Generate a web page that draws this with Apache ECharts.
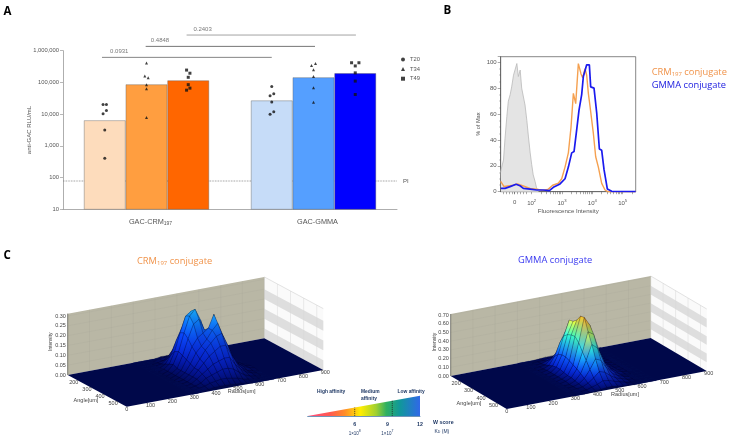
<!DOCTYPE html>
<html><head><meta charset="utf-8">
<style>html,body{margin:0;padding:0;background:#fff}#c{width:730px;height:442px}</style>
<script src="https://cdn.jsdelivr.net/npm/echarts@6/dist/echarts.min.js"></script>
</head><body><div id="c"></div>
<script>
// ---------- Panel A data ----------
const groups = ['GAC-CRM197', 'GAC-GMMA'];
const barT20 = [6400, 27000];
const barT34 = [87000, 145000];
const barT49 = [116000, 195000];
const colorsT20 = ['#fddcbc', '#c6dcf8'];
const colorsT34 = ['#ff9e40', '#559fff'];
const colorsT49 = ['#ff6600', '#0000ff'];
// [value, sideways jitter within the bar, in group widths]
const t20Crm = [[20000,-.01],[20000,.01],[13000,.01],[10300,-.01],[3170,0],[405,0]];
const t20Gmma = [[74000,0],[44000,.012],[38000,-.01],[24000,0],[11800,.012],[10000,-.01]];
const t34Crm = [[410000,0],[159000,-.01],[141000,.01],[85000,0],[63000,0],[7900,0]];
const t34Gmma = [[398000,.012],[339000,-.012],[251000,0],[155000,0],[68000,0],[23500,0]];
const t49Crm = [[245000,-.01],[195000,.01],[145000,0],[85000,0],[66000,.01],[57000,-.01]];
const t49Gmma = [[417000,-.022],[417000,.022],[331000,0],[200000,0],[110000,0],[41700,0]];
const piLevel = 78;
const bracketFrom = [.2335, .495, .74];
const bracketTo = [1.25, 1.509, 1.754];
const bracketLevel = [617000, 1370000, 3120000];
const bracketColor = ['#777777', '#666666', '#999999'];
const pValues = ['0.0931', '0.4848', '0.2403'];
const pValueAt = [.337, .581, .836];

// ---------- Panel B data (x is log10 of fluorescence intensity) ----------
const grayX = [.978,.99,1.07,1.12,1.18,1.23,1.29,1.34,1.40,1.45,1.51,1.56,1.62,1.67,1.73,1.78,1.84,1.89,1.95,2.0,2.05,2.11,2.16,2.22];
const grayPct = [15,17,24.5,41,58,70,75,81,90,89,99,89,94,80,80,67,55,43,30,21,13,8,3,0];
const orangeX = [.978,1.088,1.396,1.527,1.725,1.945,2.165,2.385,2.55,2.692,2.879,2.989,3.099,3.209,3.297,3.374,3.451,3.538,3.626,3.681,3.758,3.813,3.868,3.923,4.033,4.11,4.198,4.308,4.418,4.505,5.429];
const orangePct = [8,4,5,6,4.4,2.6,2,1,2,5,6.5,10,19,30,50,76,68,99,91,88,95,90,76,66,45,27,19,6.4,1.3,0,0];
const blueX = [.978,1.12,1.286,1.484,1.615,1.725,1.945,2.165,2.385,2.582,2.714,2.934,3.099,3.209,3.319,3.396,3.484,3.56,3.648,3.703,3.758,3.813,3.901,3.945,4.055,4.143,4.231,4.308,4.385,4.495,4.637,5.429];
const bluePct = [2.6,2.6,3.9,5.7,4.6,2.6,2,1.3,1.3,.8,3.4,6,10,19,30,31,48,63,75,89,88,98,98,81,80,61,33,32,17,2,.3,0];
const xTicksB = [1.44, 2, 3, 4, 5];

// ---------- Panel C data: intensity x 100, rows by angle, columns by radius ----------
const radiusCols = [300,325,350,375,400,425,450,475,500,525,550,575,600,625,650,675];
const angleRows = [100,130,160,190,220,250,280,310,340,370,400,430,460,490,520,550];
const crmSurface = [
[0,0,0,0,0,.5,.5,.5,.5,.5,0,0,0,0,0,0],
[0,0,0,0,1,1,1.5,1.5,1.5,1,.5,0,0,0,0,0],
[0,0,0,.5,1,3,4,4,3,2,1,.5,0,0,0,0],
[0,0,.5,1,3,7,10,10,8,5,2,1,.5,0,0,0],
[0,0,.5,2,6,13,19,20,15,9,4,2,1,.5,0,0],
[0,0,1,3,9,18,26,28,20,12,6,3,1.5,1,.5,0],
[0,0,1,4,10,19,27,30,24,14,8,4,2,1,.5,0],
[0,0,1,3,9,17,24,26,20,17,12,6,3,1,.5,0],
[0,0,1,3,8,14,18,20,22,28.5,19,9,4,2,1,0],
[0,0,1,3,7,12,15,18,22,25,18,9,4,2,1,.5],
[0,.5,1,3,6,10,14,17,20,21,15,8,4,2,1,.5],
[0,.5,1,3,6,9,12,14,16,16,11,6,3,1,.5,0],
[0,.5,1,3,5,7,9,10,11,11,7,4,2,1,.5,0],
[0,.5,1,2,4,5,6,7,7,6,4,2,1,.5,0,0],
[0,0,1,1.5,2.5,3,3.5,3.5,3,2.5,1.5,1,.5,0,0,0],
[0,0,.5,1,1.5,1.5,1.5,1.5,1,1,.5,0,0,0,0,0]];
const gmmaSurface = [
[0,0,0,0,.5,1,1,1,.5,0,0,0,0,0,0,0],
[0,0,0,.5,1,2,3,2,1,.5,0,0,0,0,0,0],
[0,0,.5,1,3,6,8,7,4,2,1,0,0,0,0,0],
[0,0,1,2,7,14,20,16,8,4,2,1,0,0,0,0],
[0,.5,1,4,13,28,40,30,15,7,3,1,.5,0,0,0],
[0,.5,2,6,18,38,55,42,24,11,5,2,1,.5,0,0],
[0,.5,2,7,20,42,56,46,28,13,6,3,1,.5,0,0],
[0,.5,2,7,20,44,60,55,32,15,7,3,1,.5,0,0],
[0,.5,2,6,18,45,67,60,35,17,8,3,1,.5,0,0],
[0,.5,2,5,16,40,68,58,35,17,8,3,1,.5,0,0],
[0,.5,2,5,14,32,54,50,30,15,7,3,1,.5,0,0],
[0,.5,1,4,11,25,42,37,22,11,6,2,1,0,0,0],
[0,.5,1,3,8,17,28,25,15,8,4,2,.5,0,0,0],
[0,0,1,2,5,10,16,14,9,5,3,1,.5,0,0,0],
[0,0,.5,1,3,5,8,7,5,3,1.5,.5,0,0,0,0],
[0,0,0,.5,1,2,3,3,2,1,.5,0,0,0,0,0]];
const radiusTicks = [0,100,200,300,400,500,600,700,800,900];
const angleTicks = [200,300,400,500];
const crmZTicks = [0,.05,.10,.15,.20,.25,.30];
const gmmaZTicks = [0,.10,.20,.30,.40,.50,.60,.70];
const crmBands = [[0,.05],[.10,.15],[.20,.25]];
const gmmaBands = [[.10,.20],[.30,.40],[.50,.60]];
// Affinity scale
const wTicks = [6, 9, 12];
const kdExponent = {6:'8', 9:'7'};
const wMarkers = [6, 9.45];

// ---------- Helpers ----------
const SANS = '"Liberation Sans", Arial, sans-serif';
const HEAD = '"Open Sans", "Noto Sans", sans-serif';
const TXT = '#555';
const R_MAX = 900, A_MIN = 100, A_MAX = 550;
const crmView = {origin:[126.7,406.7], rVec:[196.6,-36.7], aVec:[-59,-31.7], zPx:196.7, zTop:.312,
  zTicks:crmZTicks, bands:crmBands, surface:crmSurface, radiusName:[241.7,391.7], angleName:[86,400.7], zName:[50.7,341.7], zFix:2};
const gmmaView = {origin:[506.7,409], rVec:[200,-38], aVec:[-56,-33], zPx:87.1, zTop:.712,
  zTicks:gmmaZTicks, bands:gmmaBands, surface:gmmaSurface, radiusName:[625,394], angleName:[469,403.3], zName:[434.5,342], zFix:2};
const palette = ['#00084a','#03128c','#0620b8','#0830cc','#0a48d8','#0c70e0','#18a0e8','#1cbfd8','#22c9b4','#34c890','#78c860','#b8c83c','#e8c828','#f2a820','#ea8018'];
function zColor(z){ return echarts.color.lerp(Math.min(z/.7,1), palette); }
function project(v, r, a, z){
  const t = (A_MAX - a)/(A_MAX - A_MIN), s = r/R_MAX;
  return [v.origin[0]+s*v.rVec[0]+t*v.aVec[0], v.origin[1]+s*v.rVec[1]+t*v.aVec[1]-z*v.zPx];
}
function poly(api, pts, style){
  return {type:'polygon', shape:{points:pts.map(p=>api.coord(p))}, style};
}
function seg(api, a, b, stroke, w){
  const p=api.coord(a), q=api.coord(b);
  return {type:'line', shape:{x1:p[0],y1:p[1],x2:q[0],y2:q[1]}, style:{stroke, lineWidth:w, fill:null}};
}
function lab(api, p, text, align){
  const c=api.coord(p);
  return {type:'text', style:{x:c[0],y:c[1],text,fill:'#444',font:'5.5px '+SANS,textAlign:align||'center',textVerticalAlign:'middle'}};
}
function wallsSeries(v){
  return {type:'custom', coordinateSystem:'cartesian2d', xAxisIndex:5, yAxisIndex:4, silent:true, z:1, data:[[0,0]],
    renderItem(params, api){
      const P=(r,a,z)=>project(v,r,a,z), ch=[];
      ch.push(poly(api,[P(R_MAX,A_MAX,0),P(R_MAX,A_MIN,0),P(R_MAX,A_MIN,v.zTop),P(R_MAX,A_MAX,v.zTop)],{fill:'#fafafa'}));
      v.bands.forEach(b=>ch.push(poly(api,[P(R_MAX,A_MAX,b[0]),P(R_MAX,A_MIN,b[0]),P(R_MAX,A_MIN,b[1]),P(R_MAX,A_MAX,b[1])],{fill:'#dedede'})));
      [100,200,300,400,500].forEach(a=>ch.push(seg(api,P(R_MAX,a,0),P(R_MAX,a,v.zTop),'#d8d8d8',.5)));
      ch.push(seg(api,P(R_MAX,A_MIN,v.zTop),P(R_MAX,A_MAX,v.zTop),'#d0d0d0',.6));
      ch.push(poly(api,[P(0,A_MIN,0),P(R_MAX,A_MIN,0),P(R_MAX,A_MIN,v.zTop),P(0,A_MIN,v.zTop)],{fill:'#b9b7a5'}));
      radiusTicks.forEach(r=>ch.push(seg(api,P(r,A_MIN,0),P(r,A_MIN,v.zTop),'rgba(150,150,135,.28)',.4)));
      v.zTicks.forEach(z=>ch.push(seg(api,P(0,A_MIN,z),P(R_MAX,A_MIN,z),'rgba(150,150,135,.28)',.4)));
      ch.push(seg(api,P(0,A_MIN,0),P(0,A_MIN,v.zTop),'#55554d',.7));
      ch.push(poly(api,[P(0,A_MAX,0),P(R_MAX,A_MAX,0),P(R_MAX,A_MIN,0),P(0,A_MIN,0)],{fill:palette[0]}));
      v.zTicks.forEach(z=>{const p=P(0,A_MIN,z); ch.push(lab(api,[p[0]-1.8,p[1]],z.toFixed(v.zFix),'right'));});
      radiusTicks.forEach(r=>{const p=P(r,A_MAX,0); ch.push(lab(api,[p[0]+(r?2:0),p[1]+(r?2.6:2.5)],String(r)));});
      angleTicks.forEach(a=>{const p=P(0,a,0); ch.push(lab(api,[p[0]-7,p[1]],String(a)));});
      ch.push(lab(api,v.radiusName,'Radius[um]'));
      ch.push(lab(api,v.angleName,'Angle[um]'));
      const zc=api.coord(v.zName);
      ch.push({type:'text',x:zc[0],y:zc[1],rotation:Math.PI/2,style:{x:0,y:0,text:'Intensity',fill:'#444',font:'5px '+SANS,textAlign:'center',textVerticalAlign:'middle'}});
      return {type:'group',children:ch};
    }};
}
function surfaceSeries(v){
  const m=v.surface, cells=[];
  for(let j=0;j<angleRows.length-1;j++) for(let i=radiusCols.length-2;i>=0;i--){
    cells.push([radiusCols[i],radiusCols[i+1],angleRows[j],angleRows[j+1],m[j][i]/100,m[j][i+1]/100,m[j+1][i+1]/100,m[j+1][i]/100]);
  }
  return {type:'custom', coordinateSystem:'cartesian2d', xAxisIndex:5, yAxisIndex:4, silent:true, z:2, data:cells,
    renderItem(params, api){
      const c=cells[params.dataIndex];
      const zs=[c[4],c[5],c[6],c[7]], mean=(zs[0]+zs[1]+zs[2]+zs[3])/4;
      const pa=[project(v,c[0],c[2],c[4]),project(v,c[1],c[2],c[5]),project(v,c[1],c[3],c[6]),project(v,c[0],c[3],c[7])];
      const scr=pa.map(p=>api.coord(p));
      const ys=scr.map(p=>p[1]), top=Math.min(...ys), bot=Math.max(...ys);
      // faces that rise with radius look away from the light
      const rise=((zs[1]+zs[2])-(zs[0]+zs[3]))/2;
      const k=rise>0?-Math.min(.28,rise*2.2):Math.min(.06,-rise*.5);
      const shade=z=>echarts.color.lift(zColor(z),k);
      const fill=(bot-top>.5)?new echarts.graphic.LinearGradient(0,top,0,bot,[{offset:0,color:shade(zs[ys.indexOf(top)])},{offset:1,color:shade(zs[ys.indexOf(bot)])}],true):zColor(mean);
      return {type:'polygon',shape:{points:scr},style:{fill,stroke:mean>.004?'rgba(0,0,30,.6)':'rgba(10,20,90,.4)',lineWidth:.35}};
    }};
}
function pts(list, centre){ return list.map(p=>[centre+p[1], p[0]]); }
function zip(x,y){ return x.map((v,i)=>[v,y[i]]); }
function barSeries(name, vals, cols){
  return {type:'bar', name, xAxisIndex:0, yAxisIndex:0, z:2, barGap:0, barCategoryGap:'25%',
    data:vals.map((v,i)=>({value:v, itemStyle:{color:cols[i], borderColor:'rgba(90,90,90,.55)', borderWidth:.7}}))};
}
function dotSeries(name, symbol, size, data){
  return {type:'scatter', name, symbol, symbolSize:size, xAxisIndex:1, yAxisIndex:0, z:4, itemStyle:{color:'#111'}, data};
}
const hidden = {show:false};
const bMinor=[];
[2,3,4,5].forEach(d=>[2,3,4,5,6,7,8,9].forEach(m=>{const v=d+Math.log10(m); if(v<5.429) bMinor.push(v);}));
[1.05,1.15,1.25,1.35,1.44,1.53,1.62,1.72,1.82].forEach(v=>bMinor.push(v));

const wMin = 1.68, wMax = 12;
const subRich = {s:{font:'6px '+HEAD,fill:'#f0934a',verticalAlign:'bottom',padding:[4,0,0,0]}};
const option = {
  animation:false,
  backgroundColor:'#fff',
  legend:{data:['T20','T34','T49'], orient:'vertical', left:396, top:51.5, itemWidth:4, itemHeight:4, itemGap:3.6,
    textStyle:{fontSize:5.8, color:TXT, fontFamily:SANS, padding:[0,0,0,0]}, selectedMode:false},
  grid:[
    {left:63, top:50.7, width:334, height:158.6},
    {left:63, top:19, width:334, height:190.3},
    {left:500.7, top:56.7, width:135, height:135, show:true, borderColor:'#555', borderWidth:.7, backgroundColor:'transparent'},
    {left:307.7, top:395.7, width:112.3, height:20.3},
    {left:0, top:0, width:730, height:442}
  ],
  xAxis:[
    {type:'category', gridIndex:0, data:groups, axisTick:{show:false}, axisLine:{lineStyle:{color:'#999',width:.8}},
      axisLabel:{margin:9, fontSize:7.3, color:TXT, fontFamily:SANS, padding:[0,0,0,8],
        formatter:v=>v.replace('197','{s|197}'),
        rich:{s:{fontSize:5, color:TXT, fontFamily:SANS, verticalAlign:'bottom', padding:[3,0,0,0]}}}},
    {type:'value', gridIndex:0, min:0, max:2, show:false},
    {type:'value', gridIndex:1, min:0, max:2, show:false},
    {type:'value', gridIndex:2, min:.978, max:5.429, splitLine:hidden, name:'Fluorescence Intensity', nameLocation:'middle', nameGap:16.5, nameMoveOverlap:false,
      nameTextStyle:{fontSize:6.1, color:TXT, fontFamily:SANS},
      axisLine:{lineStyle:{color:'#555',width:.7}},
      axisTick:{length:2.5, lineStyle:{color:'#555',width:.5}, customValues:xTicksB.concat(bMinor)},
      axisLabel:{margin:7.5, fontSize:6, color:TXT, fontFamily:SANS, customValues:xTicksB,
        formatter:v=>Math.abs(v-1.44)<.01?'0':'10{s|'+Math.round(v)+'}',
        rich:{s:{fontSize:4.2, color:TXT, fontFamily:SANS, verticalAlign:'top', padding:[0,0,4,0]}}}},
    {type:'value', gridIndex:3, min:wMin, max:wMax, splitLine:hidden, offset:2,
      axisLine:{lineStyle:{color:'#6f95b8',width:1}}, axisTick:{show:false},
      axisLabel:{margin:1.5, customValues:wTicks, color:'#1f3864', fontFamily:SANS, lineHeight:9.5,
        formatter:v=>kdExponent[v]?'{w|'+v+'}\n{k|1\u00d710}{e|'+kdExponent[v]+'}':'{w|'+v+'}\n ',
        rich:{w:{fontSize:5.3,fontWeight:'bold',color:'#1f3864',fontFamily:SANS},k:{fontSize:4.5,color:'#1f3864',fontFamily:SANS},e:{fontSize:3.5,color:'#1f3864',fontFamily:SANS,verticalAlign:'top'}}}},
    {type:'value', gridIndex:4, min:0, max:730, show:false}
  ],
  yAxis:[
    {type:'log', logBase:10, gridIndex:0, min:10, max:1000000, splitLine:hidden, name:'anti-GAC RLU/mL', nameLocation:'middle', nameGap:31, nameMoveOverlap:false,
      nameTextStyle:{fontSize:6, color:TXT, fontFamily:SANS},
      axisLine:{show:true,lineStyle:{color:'#999',width:.8}}, axisTick:{show:true,length:3,lineStyle:{color:'#999',width:.7}}, minorTick:hidden,
      axisLabel:{margin:4,fontSize:5.8,color:TXT,fontFamily:SANS,formatter:v=>Number(v).toLocaleString('en-US')}},
    {type:'log', logBase:10, gridIndex:1, min:10, max:10000000, show:false},
    {type:'value', gridIndex:2, min:0, max:104.3, interval:20, splitLine:hidden, name:'% of Max', nameLocation:'middle', nameGap:19, nameMoveOverlap:false,
      nameTextStyle:{fontSize:5.6, color:TXT, fontFamily:SANS},
      axisLine:{show:true,lineStyle:{color:'#555',width:.7}}, axisTick:{show:true,length:3,lineStyle:{color:'#555',width:.5}},
      minorTick:{show:true,splitNumber:4,length:1.5,lineStyle:{color:'#555',width:.4}},
      axisLabel:{margin:4,fontSize:6,color:TXT,fontFamily:SANS,showMaxLabel:false}},
    {type:'value', gridIndex:3, min:0, max:1, show:false},
    {type:'value', gridIndex:4, min:0, max:442, inverse:true, show:false}
  ],
  series:[
    {type:'line', name:'PI', xAxisIndex:1, yAxisIndex:0, z:1, symbol:'none', data:[[0,piLevel],[2,piLevel]],
      lineStyle:{type:'dotted',color:'#777',width:.8},
      endLabel:{show:true,formatter:'PI',distance:6,fontSize:6,color:TXT,fontFamily:SANS}},
    barSeries('T20 bar', barT20, colorsT20),
    barSeries('T34 bar', barT34, colorsT34),
    barSeries('T49 bar', barT49, colorsT49),
    dotSeries('T20','circle',3,pts(t20Crm,.25).concat(pts(t20Gmma,1.25))),
    dotSeries('T34','triangle',3,pts(t34Crm,.5).concat(pts(t34Gmma,1.5))),
    dotSeries('T49','rect',3,pts(t49Crm,.75).concat(pts(t49Gmma,1.75))),
    ...pValues.map((p,i)=>({type:'line', name:'bracket '+p, xAxisIndex:2, yAxisIndex:1, symbol:'none', z:3,
      data:[[bracketFrom[i],bracketLevel[i]],[bracketTo[i],bracketLevel[i]]], lineStyle:{color:bracketColor[i],width:.9}})),
    {type:'scatter', name:'p values', xAxisIndex:2, yAxisIndex:1, symbolSize:0, z:3,
      data:pValues.map((p,i)=>({value:[pValueAt[i],bracketLevel[i]],name:p})),
      label:{show:true,position:'top',distance:3,formatter:'{b}',fontSize:6,color:TXT,fontFamily:SANS}},
    {type:'line', name:'Unstained', xAxisIndex:3, yAxisIndex:2, symbol:'none', data:zip(grayX,grayPct),
      lineStyle:{color:'#b9b9b9',width:.8}, areaStyle:{color:'#e4e4e4',opacity:1}, z:2},
    {type:'line', name:'CRM197 conjugate', xAxisIndex:3, yAxisIndex:2, symbol:'none', data:zip(orangeX,orangePct),
      lineStyle:{color:'#f5a04f',width:1.4}, z:3},
    {type:'line', name:'GMMA conjugate', xAxisIndex:3, yAxisIndex:2, symbol:'none', data:zip(blueX,bluePct),
      lineStyle:{color:'#1a1aee',width:1.7}, z:4},
    {type:'custom', name:'Affinity scale', coordinateSystem:'cartesian2d', xAxisIndex:4, yAxisIndex:3, silent:true, data:[[wMin,0]],
      renderItem(params, api){
        const ch=[poly(api,[[wMin,0],[wMax,0],[wMax,1]],{fill:new echarts.graphic.LinearGradient(0,0,1,0,[
          {offset:0,color:'#ff4d80'},{offset:.2,color:'#ff5a50'},{offset:.33,color:'#ff8c28'},{offset:.47,color:'#ffee00'},
          {offset:.61,color:'#a0d030'},{offset:.7,color:'#30b060'},{offset:.82,color:'#10989a'},{offset:1,color:'#3068e8'}])})];
        wMarkers.forEach(w=>{const l=seg(api,[w,0],[w,(w-wMin)/(wMax-wMin)],'#222',.7); l.style.lineDash=[1.2,.8]; ch.push(l);});
        return {type:'group',children:ch};
      }},
    wallsSeries(crmView), surfaceSeries(crmView),
    wallsSeries(gmmaView), surfaceSeries(gmmaView)
  ],
  graphic:{elements:[
    {type:'text',left:3.5,top:5.5,style:{text:'A',font:'bold 11.5px '+HEAD,fill:'#000'}},
    {type:'text',left:443.5,top:5,style:{text:'B',font:'bold 11.5px '+HEAD,fill:'#000'}},
    {type:'text',left:3.5,top:250,style:{text:'C',font:'bold 11.5px '+HEAD,fill:'#000'}},
    {type:'text',left:651.7,top:67.5,style:{text:'CRM{s|197} conjugate',font:'9.3px '+HEAD,fill:'#f0934a',rich:subRich}},
    {type:'text',left:651.7,top:80.5,style:{text:'GMMA conjugate',font:'9.3px '+HEAD,fill:'#2020e0'}},
    {type:'text',left:137,top:257,style:{text:'CRM{s|197} conjugate',font:'9.3px '+HEAD,fill:'#f0934a',rich:subRich}},
    {type:'text',left:518,top:255.5,style:{text:'GMMA conjugate',font:'9.3px '+HEAD,fill:'#3a3af0'}},
    {type:'text',left:317,top:389,style:{text:'High affinity',font:'bold 4.9px '+SANS,fill:'#1f3864'}},
    {type:'text',left:361,top:389,style:{text:'Medium\naffinity',font:'bold 4.9px '+SANS,fill:'#1f3864',lineHeight:6.3}},
    {type:'text',left:397.5,top:389,style:{text:'Low affinity',font:'bold 4.9px '+SANS,fill:'#1f3864'}},
    {type:'text',left:433,top:420.5,style:{text:'W score',font:'bold 5.3px '+SANS,fill:'#1f3864'}},
    {type:'text',left:434.5,top:429.5,style:{text:'K{s|D} (M)',font:'5px '+SANS,fill:'#1f3864',rich:{s:{font:'3.5px '+SANS,fill:'#1f3864',verticalAlign:'bottom'}}}}
  ]}
};
const chart = echarts.init(document.getElementById('c'), null, {renderer:'canvas'});
chart.setOption(option);
</script></body></html>
